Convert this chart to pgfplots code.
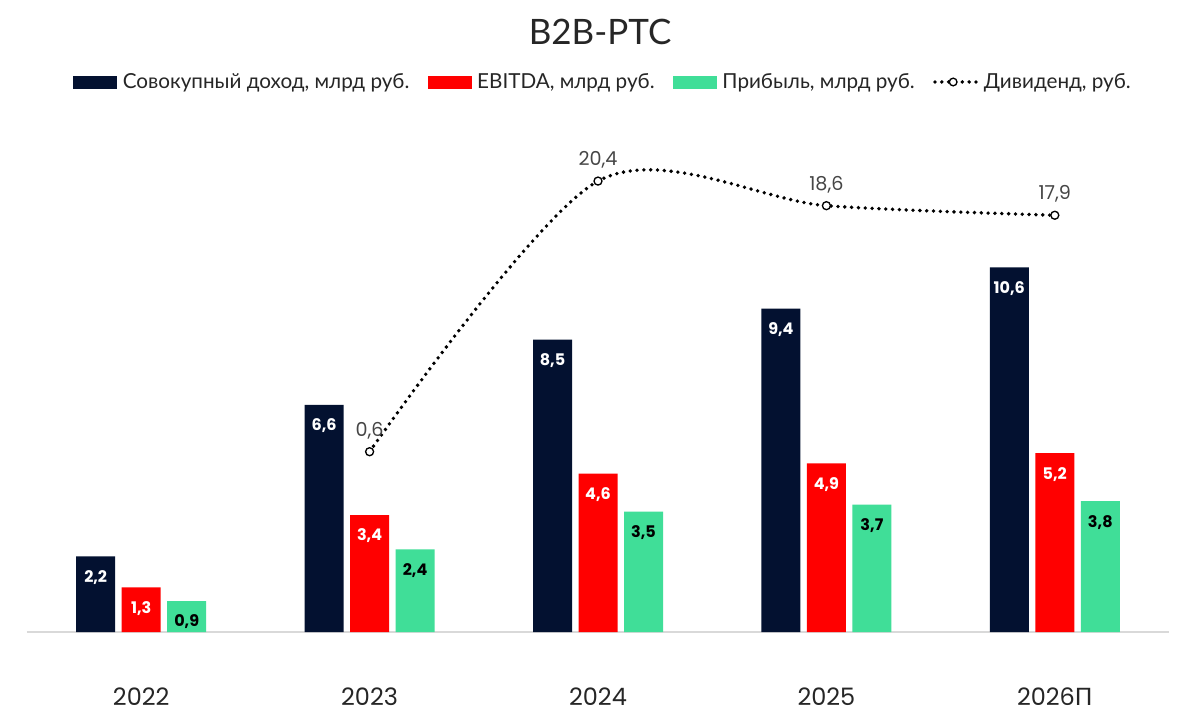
\documentclass[border=0pt]{standalone}
\usepackage{fontspec}
\setmainfont{Lato}
\newfontfamily\pop{Poppins}
\newfontfamily\lato{Lato}
\usepackage{pgfplots}
\pgfplotsset{compat=1.18}
\definecolor{navy}{RGB}{3,17,48}
\definecolor{rred}{RGB}{255,0,0}
\definecolor{mint}{RGB}{64,222,152}
\definecolor{txt}{RGB}{38,38,38}
\definecolor{lbl}{RGB}{70,70,70}
\definecolor{base}{RGB}{217,217,217}
\pgfplotsset{
  mynum/.style={/pgf/number format/.cd, use comma, fixed, fixed zerofill, precision=1, assume math mode=true, /pgfplots/.cd},
}
\begin{document}
\begin{tikzpicture}
\path[fill=white, use as bounding box] (0,0) rectangle (720pt,432pt);
\begin{axis}[
  at={(16.2pt,52.8pt)}, anchor=south west, scale only axis,
  width=685.2pt, height=313.2pt,
  xmin=-0.5, xmax=4.5, ymin=0, ymax=15.17,
  ybar=3.9pt, bar width=23.4pt,
  axis y line=none, axis x line*=bottom,
  x axis line style={draw=base, line width=0.9pt, -},
  xtick={0,1,2,3,4}, xticklabels={2022,2023,2024,2025,2026{\lato П}},
  major tick length=0pt,
  xticklabel style={font=\pop\fontsize{14.4pt}{16pt}\selectfont, text=txt, anchor=center, yshift=-39pt},
  mynum,
  nodes near coords,
  every node near coord/.append style={font=\pop\bfseries\fontsize{9.6pt}{11pt}\selectfont, anchor=center, yshift=-12.6pt},
]
\addplot[fill=navy, draw=none, every node near coord/.append style={text=white}] coordinates {(0,2.2) (1,6.6) (2,8.5) (3,9.4) (4,10.6)};
\addplot[fill=rred, draw=none, every node near coord/.append style={text=white}] coordinates {(0,1.3) (1,3.4) (2,4.6) (3,4.9) (4,5.2)};
\addplot[fill=mint, draw=none, every node near coord/.append style={text=black}] coordinates {(0,0.9) (1,2.4) (2,3.5) (3,3.7) (4,3.8)};
\end{axis}
\begin{axis}[
  at={(16.2pt,52.8pt)}, anchor=south west, scale only axis,
  width=685.2pt, height=313.2pt,
  xmin=-0.5, xmax=4.5, ymin=-12.59, ymax=25.6,
  hide axis, mynum,
  legend columns=4,
  legend style={draw=none, fill=none, at={(axis description cs:0.505,1)}, anchor=center, yshift=16.8pt,
    font=\lato\fontsize{12.4pt}{14pt}\selectfont, text=txt,
    /tikz/every even column/.append style={column sep=9pt},
    /tikz/every odd column/.append style={column sep=1.5pt}},
  legend cell align=left,
]
\addlegendimage{legend image code/.code={\fill[navy] (0pt,-3.6pt) rectangle (25.8pt,3.6pt);}}
\addlegendentry{Совокупный доход, млрд руб.}
\addlegendimage{legend image code/.code={\fill[rred] (0pt,-3.6pt) rectangle (25.8pt,3.6pt);}}
\addlegendentry{EBITDA, млрд руб.}
\addlegendimage{legend image code/.code={\fill[mint] (0pt,-3.6pt) rectangle (25.8pt,3.6pt);}}
\addlegendentry{Прибыль, млрд руб.}
\addlegendimage{legend image code/.code={\draw[black, line width=2.3pt, line cap=round, dash pattern=on 0pt off 4.1pt] (0.5pt,0pt) -- (25.2pt,0pt); \draw[black, line width=0.8pt, fill=white] (11.4pt,0pt) circle (2.3pt);}}
\addlegendentry{Дивиденд, руб.}
\addplot[smooth, black, line width=2.3pt, line cap=round, dash pattern=on 0pt off 4.1pt,
  mark=*, mark size=2.4pt, mark options={solid, fill=white, draw=black, line width=0.8pt},
  nodes near coords,
  every node near coord/.append style={font=\pop\fontsize{11.5pt}{13pt}\selectfont, text=lbl, anchor=center, yshift=12.6pt}]
  coordinates {(1,0.6) (2,20.4) (3,18.6) (4,17.9)};
\end{axis}
\node[font=\lato\fontsize{21pt}{25pt}\selectfont, text=txt] at (360pt,412.8pt) {B2B-РТС};
\end{tikzpicture}
\end{document}
